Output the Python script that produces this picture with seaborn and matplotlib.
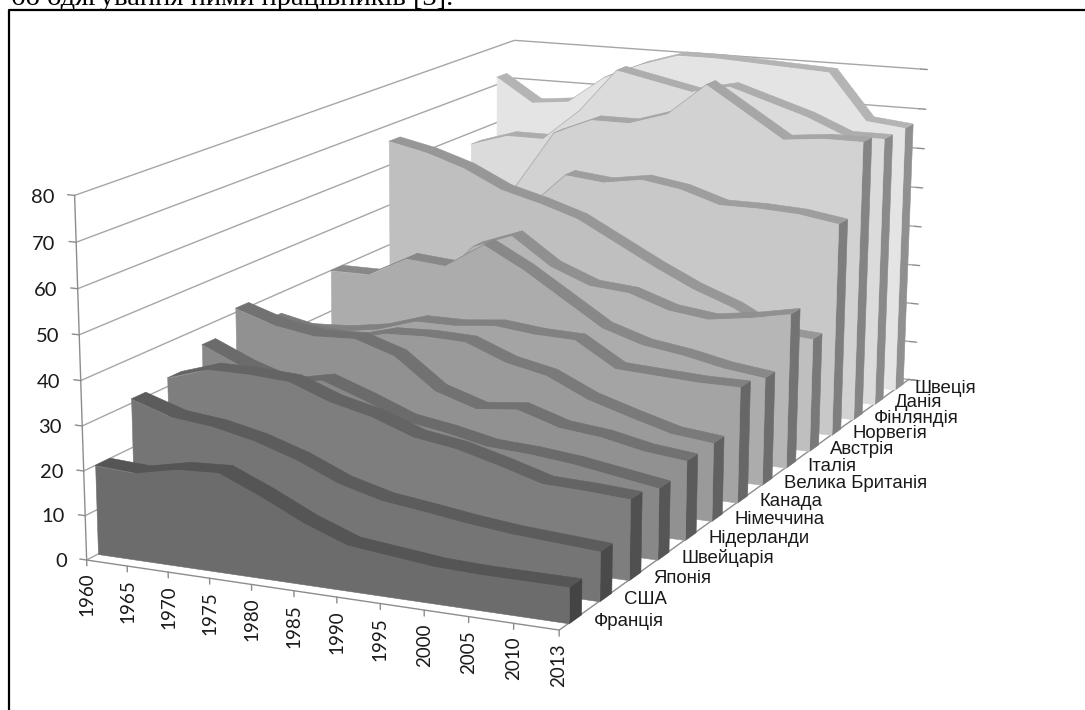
#!/usr/bin/env python3
"""Ribbon chart by country, 1960-2013, drawn on a 3D axes with a fitted camera."""

import numpy as np
import matplotlib
matplotlib.use("Agg")
import matplotlib.pyplot as plt
import seaborn as sns
from matplotlib.lines import Line2D
from mpl_toolkits.mplot3d import proj3d
from mpl_toolkits.mplot3d.art3d import Poly3DCollection

years = ["1960", "1965", "1970", "1975", "1980", "1985", "1990", "1995", "2000", "2005", "2010", "2013"]
countries = ["Франція", "США", "Японія", "Швейцарія", "Нідерланди", "Німеччина", "Канада",
             "Велика Британія", "Італія", "Австрія", "Норвегія", "Фінляндія", "Данія", "Швеція"]

france = [20, 19.5, 21.5, 22, 18, 13.5, 10, 9, 8, 7.7, 7.7, 7.7]
usa = [31, 28, 27, 25, 22, 18, 15.5, 14.3, 13, 12, 11.4, 10.8]
japan = [32, 35, 35, 34.5, 31, 28.8, 25.4, 24, 21.5, 18.7, 18.4, 17.8]
switzerland = [36, 32, 29, 31, 27.7, 24, 22.5, 20.5, 20, 19, 17.5, 16]
netherlands = [41, 38, 36.5, 37, 34, 27, 24, 25, 22, 21, 19, 18]
germany = [35, 33, 32, 34.6, 35, 34.7, 31, 29, 24.6, 21.7, 19, 18]
canada = [29, 29.5, 31, 34, 34, 35, 34, 33.7, 28, 27.5, 27, 27]
uk = [40, 40, 44.8, 44, 50, 45, 39, 33, 30, 28.6, 26.6, 25.4]
italy = [24, 24.5, 35.5, 45.5, 49, 42.5, 38.8, 38, 34.8, 33.6, 35, 36.9]
austria = [66, 64, 61, 56.5, 54, 51, 46, 41, 36.5, 33, 28, 27.4]
norway = [58, 57, 53, 49, 58, 57, 58.5, 57, 54, 54, 53.5, 52]
finland = [32, 37, 51, 65, 69, 69, 72, 80, 74, 68, 69, 69]
denmark = [57, 60, 60, 68, 79, 77, 75, 77, 74, 71, 67, 67]
sweden = [72, 66, 67, 74, 78, 81, 81, 80.5, 80, 79.5, 68, 67]
series = [france, usa, japan, switzerland, netherlands, germany, canada,
          uk, italy, austria, norway, finland, denmark, sweden]

value_ticks = [0, 10, 20, 30, 40, 50, 60, 70, 80]

# axis corners: (category, series, value) -> pixel, used only to fit the camera
calib_world = np.array([[0, 0, 0], [5, 0, 0], [11, 0, 0], [11, 7, 0], [11, 14, 0], [0, 0, 40],
                        [0, 0, 80], [0, 14, 80], [11, 14, 80], [11, 14, 40]], dtype=float)
calib_px = np.array([[87, 560], [293, 592], [556, 630], [760, 486], [907, 382], [81, 380],
                     [75, 197], [514, 39], [921, 69], [914, 227]], dtype=float)

W, H = 1085, 710


def fit_camera(world, px):
    rows, rhs = [], []
    for (x, y, z), (u, v) in zip(world, px):
        v = H - v  # picture rows run downward, the axes upward
        rows.append([x, y, z, 1, 0, 0, 0, 0, -u * x, -u * y, -u * z])
        rows.append([0, 0, 0, 0, x, y, z, 1, -v * x, -v * y, -v * z])
        rhs += [u, v]
    p = np.linalg.lstsq(np.array(rows), np.array(rhs), rcond=None)[0]
    depth = [-0.02, 0.1, 0, 0.5]
    return np.array([p[:4], p[4:8], depth, [p[8], p[9], p[10], 1.0]])


sns.set_theme(style="white")
plt.rcParams["font.family"] = ["Liberation Sans", "DejaVu Sans"]

fig = plt.figure(figsize=(W / 100, H / 100), dpi=100)
# the 3d axes always stays square, so make it cover the figure; limits are in pixels
ax = fig.add_axes([0, (H - W) / 2 / H, 1, W / H], projection="3d", computed_zorder=False)
ax.set_proj_type("ortho")  # keeps lines from being masked, the camera below does the perspective
ax.set_axis_off()
ax.set_xlim(0, 11)
ax.set_ylim(0, 14)
ax.set_zlim(0, 80)
ax.set_xticks([])
ax.set_yticks([])
ax.set_zticks([])
ax.viewLim.intervalx = (0, W)
ax.viewLim.intervaly = ((H - W) / 2, (H + W) / 2)
camera = fit_camera(calib_world, calib_px)
ax.get_proj = lambda: camera

xs = np.arange(len(years))
grid_c, tick_c = "#a6a6a6", "#8c8c8c"

# walls and floor edges
for v in value_ticks:
    ax.plot([0, 0, 11], [0, 14, 14], [v, v, v], color=grid_c, lw=1, zorder=1)
    ax.plot([0, -0.17], [0, 0], [v, v], color=tick_c, lw=1, zorder=1)
    ax.plot([11, 11.17], [14, 14], [v, v], color=tick_c, lw=1, zorder=1)
    ax.text(-0.5, 0, v - 0.9, str(v), ha="right", va="center", fontsize=14.5, family="Lato", color="#1a1a1a")
ax.plot([0, 0], [0, 0], [0, 80], color=tick_c, lw=1, zorder=1)
ax.plot([0, 11, 11], [0, 0, 14], [0, 0, 0], color=tick_c, lw=1, zorder=1)
ax.plot([11, 11.3], [14, 14], [0, 0], color=tick_c, lw=1, zorder=1)

for i, label in zip(xs, years):
    ax.plot([i, i], [0, 0], [0, -1.3], color=tick_c, lw=1, zorder=1)
    # Text3D forces its own angle, so the upright year labels are placed as 2d text
    u, v, _ = proj3d.proj_transform(i, 0, -2.9, camera)
    ax.text2D(u, v, label, transform=ax.transData, rotation=90, ha="center", va="top",
              fontsize=13.5, family="Lato", color="#1a1a1a")

for k, name in enumerate(countries):
    ax.text(11.42, k + 0.5, 0, name, ha="left", va="center", fontsize=13.4, color="#1a1a1a")

# ribbons, back to front: top, end cap, then the front face
faces = sns.blend_palette(["#6c6c6c", "#a8a8a8", "#e4e4e4"], len(series))
for k in range(len(series) - 1, -1, -1):
    vals = series[k]
    y0, y1 = k + 0.3, k + 0.7
    base = 10 + (len(series) - k) * 3
    face = np.array(faces[k])
    tops = [[(i, y0, vals[i]), (i + 1, y0, vals[i + 1]), (i + 1, y1, vals[i + 1]), (i, y1, vals[i])]
            for i in xs[:-1]]
    cap = [[(11, y0, vals[-1]), (11, y1, vals[-1]), (11, y1, 0), (11, y0, 0)]]
    front = [[(i, y0, vals[i]) for i in xs] + [(11, y0, 0), (0, y0, 0)]]
    for verts, col, z in [(tops, face * 0.79, base), (cap, face * 0.63, base + 1), (front, face, base + 2)]:
        poly = Poly3DCollection(verts, facecolors=[tuple(col)], edgecolors=[tuple(col)], linewidths=0.4)
        poly.set_zorder(z)
        ax.add_collection3d(poly, autolim=False)

# page text and the frame of the pasted picture
fig.text(11 / W, 1 - 5 / H, "бо одягування ними працівників [3].", family="Liberation Serif",
         fontsize=20.5, color="black", va="baseline")
fig.add_artist(Line2D([9 / W, 9 / W, 1], [0, 1 - 10 / H, 1 - 10 / H], color="black", lw=1.6))

fig.savefig("out.png", dpi=100)
